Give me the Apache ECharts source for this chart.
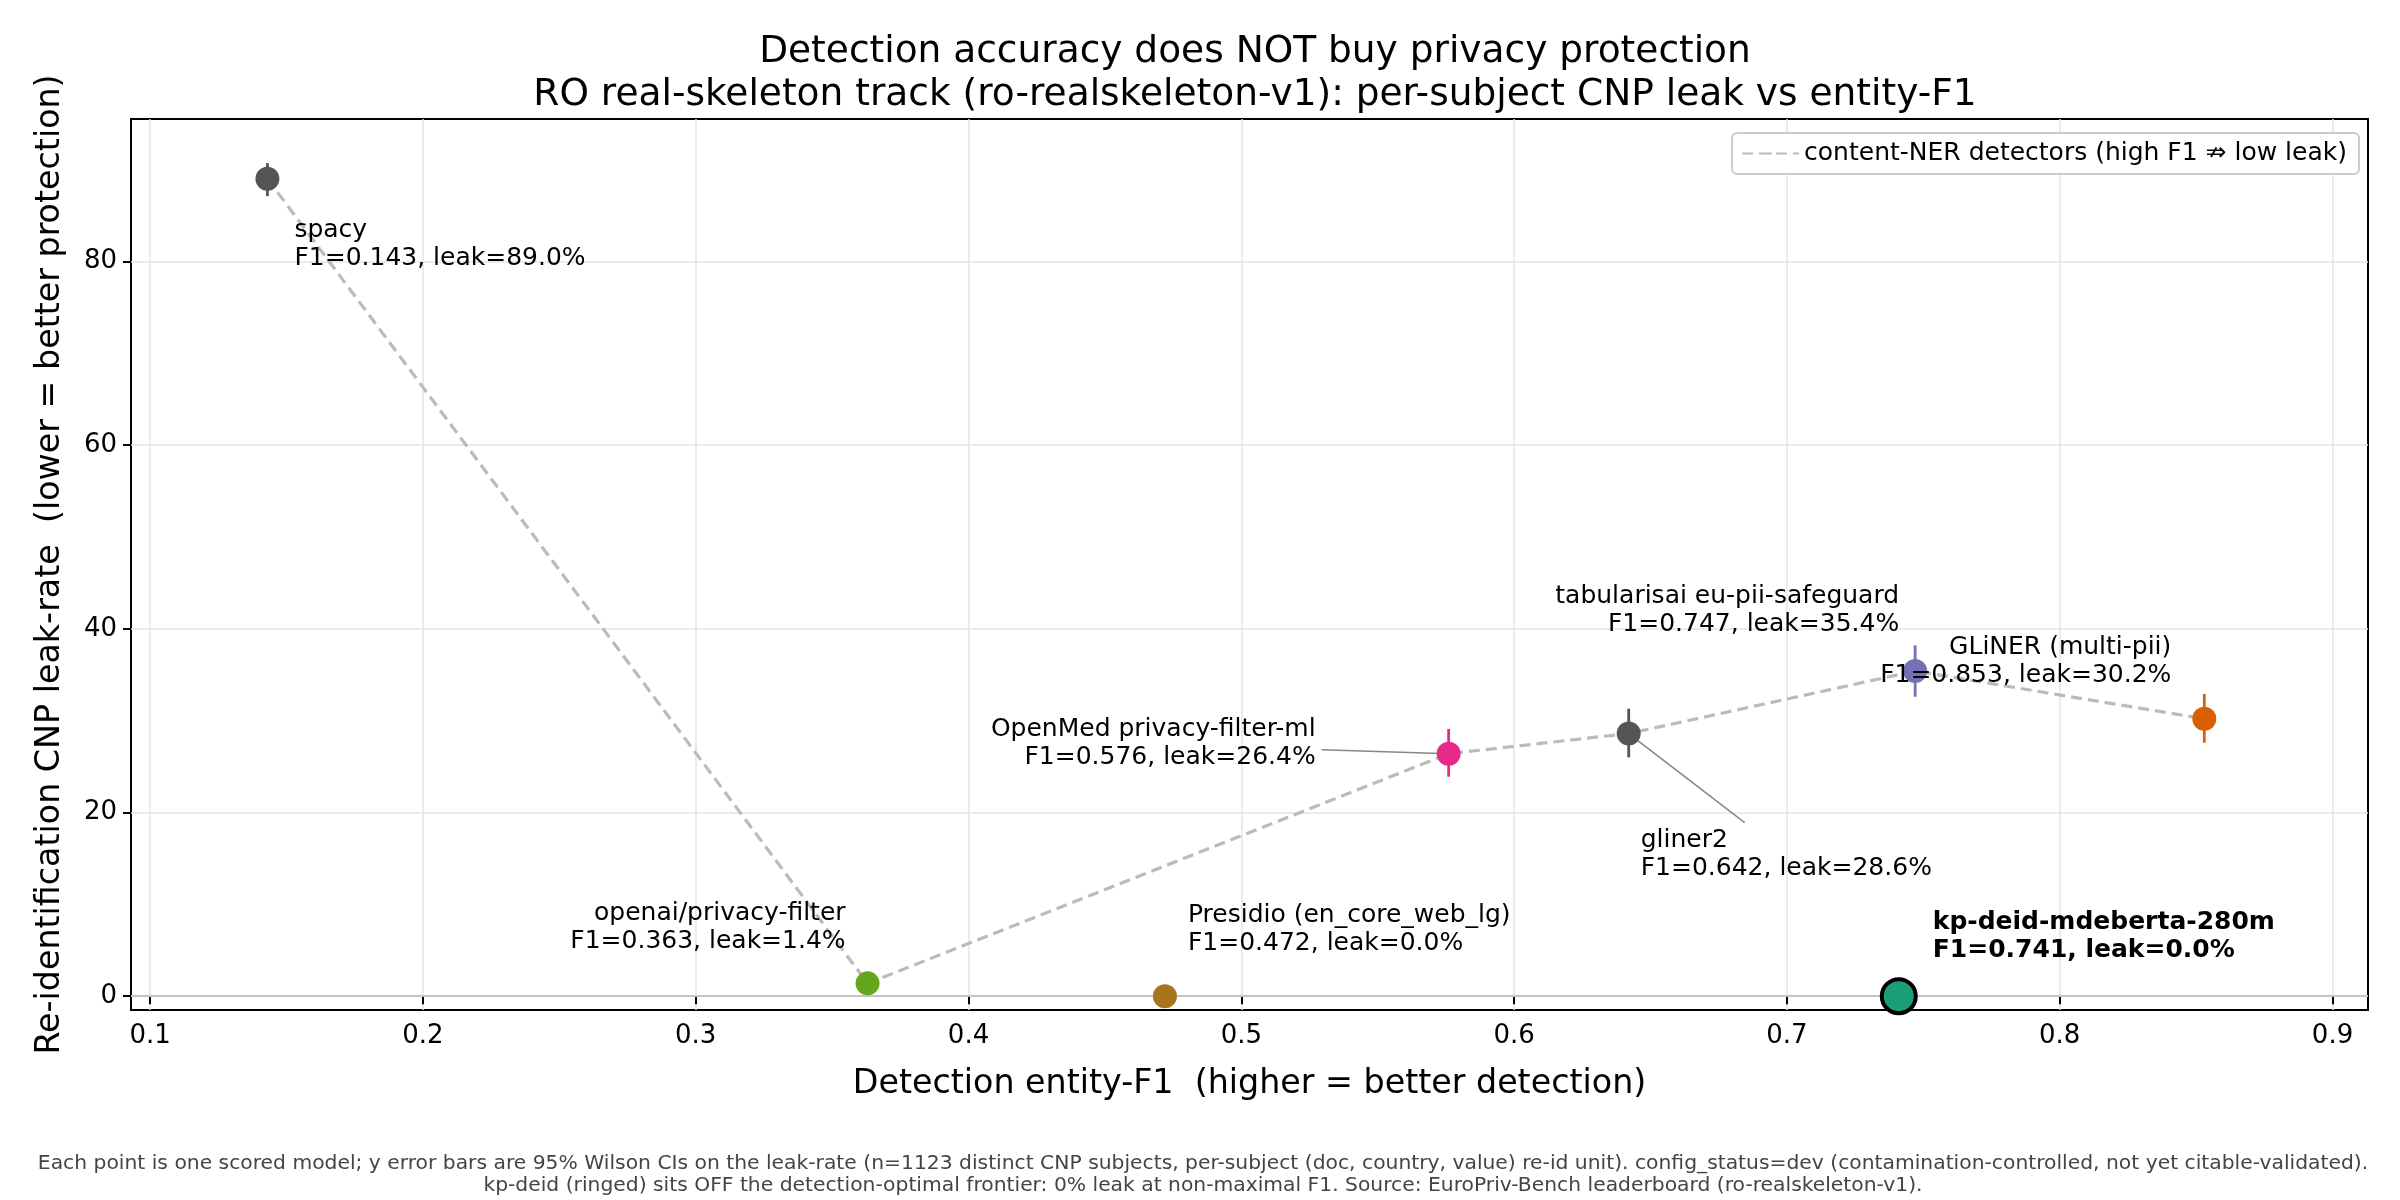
<!DOCTYPE html>
<html>
<head>
<meta charset="utf-8">
<script src="https://cdn.jsdelivr.net/npm/echarts@6/dist/echarts.min.js"></script>
<style>
  html, body { margin: 0; padding: 0; background: #fff; }
  #main { width: 2400px; height: 1200px; }
</style>
</head>
<body>
<div id="main"></div>
<script>
// values (ro-realskeleton-v1)
var models = ['spacy', 'openai/privacy-filter', 'Presidio (en_core_web_lg)', 'OpenMed privacy-filter-ml',
  'gliner2', 'tabularisai eu-pii-safeguard', 'GLiNER (multi-pii)', 'kp-deid-mdeberta-280m'];
var f1 = [0.143, 0.363, 0.472, 0.576, 0.642, 0.747, 0.853, 0.741];
var leak = [89.0, 1.4, 0.0, 26.4, 28.6, 35.4, 30.2, 0.0];
var ciLow = [87.1, 0.8, 0.0, 23.9, 26.0, 32.6, 27.6, 0.0];
var ciHigh = [90.7, 2.3, 0.3, 29.1, 31.3, 38.2, 32.9, 0.3];
// models joined by the dashed line
var contentNER = ['spacy', 'openai/privacy-filter', 'OpenMed privacy-filter-ml', 'gliner2',
  'tabularisai eu-pii-safeguard', 'GLiNER (multi-pii)'];
var ringedModel = 'kp-deid-mdeberta-280m';
var xTicks = [0.1, 0.2, 0.3, 0.4, 0.5, 0.6, 0.7, 0.8, 0.9];
var yTicks = [0, 20, 40, 60, 80];

// styling
var FONT = 'DejaVu Sans';
var colors = {
  'spacy': '#555555',
  'openai/privacy-filter': '#66a61e',
  'Presidio (en_core_web_lg)': '#a6761d',
  'OpenMed privacy-filter-ml': '#e7298a',
  'gliner2': '#555555',
  'tabularisai eu-pii-safeguard': '#7570b3',
  'GLiNER (multi-pii)': '#d95f02',
  'kp-deid-mdeberta-280m': '#1b9e77'
};
// label offset from the marker centre (px) to the middle of the 2-line text block
var placement = {
  'spacy': { offset: [27, 66], align: 'left' },
  'openai/privacy-filter': { offset: [-22, -56], align: 'right' },
  'Presidio (en_core_web_lg)': { offset: [23, -67], align: 'left' },
  'OpenMed privacy-filter-ml': { offset: [-133, -10], align: 'right' },
  'gliner2': { offset: [12, 121], align: 'left' },
  'tabularisai eu-pii-safeguard': { offset: [-16, -61], align: 'right' },
  'GLiNER (multi-pii)': { offset: [-33, -57], align: 'right' },
  'kp-deid-mdeberta-280m': { offset: [34, -60], align: 'left' }
};
var leaders = {
  'OpenMed privacy-filter-ml': [-127, -4],
  'gliner2': [116, 89]
};

var scatterData = models.map(function (m, i) {
  var ringed = m === ringedModel;
  var p = placement[m];
  return {
    name: m,
    value: [f1[i], leak[i]],
    symbolSize: ringed ? 34 : 24,
    itemStyle: { color: colors[m], opacity: 1, borderColor: ringed ? '#000' : colors[m], borderWidth: ringed ? 4 : 0 },
    label: {
      show: true, position: 'inside', offset: p.offset, align: p.align, verticalAlign: 'middle',
      fontFamily: FONT, fontSize: 25, lineHeight: 28, color: '#000',
      fontWeight: ringed ? 'bold' : 'normal',
      formatter: m + '\nF1=' + f1[i].toFixed(3) + ', leak=' + leak[i].toFixed(1) + '%'
    }
  };
});

var errData = models.map(function (m, i) {
  return { value: [f1[i], ciLow[i], ciHigh[i]], itemStyle: { color: colors[m] } };
});

var leaderData = models.filter(function (m) { return leaders[m]; }).map(function (m) {
  var i = models.indexOf(m);
  return { name: m, value: [f1[i], leak[i]] };
});

var lineData = contentNER.map(function (m) {
  var i = models.indexOf(m);
  return [f1[i], leak[i]];
}).sort(function (a, b) { return a[0] - b[0]; });

var chart = echarts.init(document.getElementById('main'));
chart.setOption({
  backgroundColor: '#fff',
  animation: false,
  textStyle: { fontFamily: FONT },
  title: [{
    text: 'Detection accuracy does NOT buy privacy protection\nRO real-skeleton track (ro-realskeleton-v1): per-subject CNP leak vs entity-F1',
    left: 1250, top: 26, textAlign: 'center',
    textStyle: { fontFamily: FONT, fontSize: 37.5, fontWeight: 'normal', color: '#000', lineHeight: 43 }
  }, {
    text: 'Each point is one scored model; y error bars are 95% Wilson CIs on the leak-rate (n=1123 distinct CNP subjects, per-subject (doc, country, value) re-id unit). config_status=dev (contamination-controlled, not yet citable-validated).\nkp-deid (ringed) sits OFF the detection-optimal frontier: 0% leak at non-maximal F1. Source: EuroPriv-Bench leaderboard (ro-realskeleton-v1).',
    left: 1198, top: 1148, textAlign: 'center',
    textStyle: { fontFamily: FONT, fontSize: 20.3, fontWeight: 'normal', color: '#444', lineHeight: 22 }
  }],
  legend: {
    right: 41, top: 133,
    orient: 'vertical',
    backgroundColor: '#fff', borderColor: '#cccccc', borderWidth: 2, borderRadius: 5,
    padding: [8, 12, 8, 9],
    itemWidth: 57, itemHeight: 3, itemGap: 14,
    textStyle: { fontFamily: FONT, fontSize: 25, color: '#000' },
    data: ['content-NER detectors (high F1 \u21CF low leak)']
  },
  grid: {
    left: 131, right: 32, top: 119, bottom: 190,
    show: true, borderColor: '#000', borderWidth: 2, backgroundColor: 'transparent'
  },
  xAxis: {
    type: 'value', min: 0.093, max: 0.913, maxInterval: 0.1,
    name: 'Detection entity-F1  (higher = better detection)',
    nameLocation: 'middle', nameGap: 58,
    nameTextStyle: { fontFamily: FONT, fontSize: 33.3, color: '#000' },
    axisLine: { show: false },
    axisTick: { show: true, length: 8, lineStyle: { color: '#000', width: 2 }, customValues: xTicks },
    axisLabel: {
      fontFamily: FONT, fontSize: 26, color: '#000', margin: 13, customValues: xTicks,
      formatter: function (v) { return v.toFixed(1); }
    },
    splitLine: { show: true, lineStyle: { color: '#e5e5e5', width: 1.5 } }
  },
  yAxis: {
    type: 'value', min: -1.5, max: 95.5, maxInterval: 20,
    name: 'Re-identification CNP leak-rate  (lower = better protection)',
    nameLocation: 'middle', nameGap: 64,
    nameTextStyle: { fontFamily: FONT, fontSize: 33.3, color: '#000' },
    axisLine: { show: false },
    axisTick: { show: true, length: 8, lineStyle: { color: '#000', width: 2 }, customValues: yTicks },
    axisLabel: {
      fontFamily: FONT, fontSize: 26, color: '#000', margin: 14, customValues: yTicks,
      formatter: function (v) { return String(Math.round(v)); }
    },
    splitLine: { show: true, lineStyle: { color: '#e5e5e5', width: 1.5 } }
  },
  series: [{
    name: 'content-NER detectors (high F1 \u21CF low leak)',
    type: 'line',
    data: lineData,
    symbol: 'none',
    z: 2,
    lineStyle: { color: '#bbbbbb', width: 3.2, type: [11, 6] },
    itemStyle: { color: '#bbbbbb' },
    markLine: {
      silent: true, symbol: ['none', 'none'],
      label: { show: false },
      lineStyle: { color: '#c4c4c4', type: 'solid', width: 2 },
      data: [{ yAxis: 0 }]
    }
  }, {
    name: 'leaders',
    type: 'custom',
    z: 3,
    data: leaderData,
    renderItem: function (params, api) {
      var m = leaderData[params.dataIndex].name;
      var c = api.coord([api.value(0), api.value(1)]);
      var d = leaders[m];
      return {
        type: 'line',
        shape: { x1: c[0], y1: c[1], x2: c[0] + d[0], y2: c[1] + d[1] },
        style: { stroke: '#888888', lineWidth: 1.6 }
      };
    }
  }, {
    name: 'errorbars',
    type: 'custom',
    z: 4,
    data: errData,
    encode: { x: 0, y: [1, 2] },
    renderItem: function (params, api) {
      var a = api.coord([api.value(0), api.value(1)]);
      var b = api.coord([api.value(0), api.value(2)]);
      return {
        type: 'line',
        shape: { x1: a[0], y1: a[1], x2: b[0], y2: b[1] },
        style: { stroke: api.visual('color'), lineWidth: 2.8 }
      };
    }
  }, {
    name: 'models',
    type: 'scatter',
    z: 5,
    data: scatterData
  }]
});
</script>
</body>
</html>
